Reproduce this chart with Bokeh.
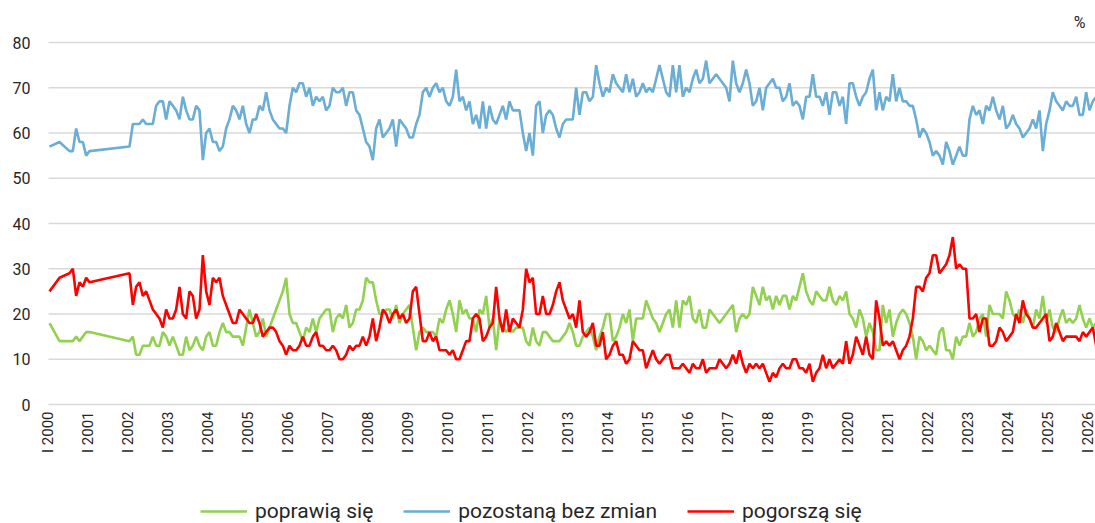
import math
from bokeh.plotting import figure
from bokeh.models import Range1d, Legend, LegendItem, ColumnDataSource
from bokeh.core.properties import value
from bokeh.embed import file_html
from bokeh.resources import INLINE

# ---- survey dates (irregular in 2000-2001, monthly from I 2002 to III 2026)
early_dates = [(2000, 1), (2000, 4), (2000, 7), (2000, 8), (2000, 9), (2000, 10),
               (2000, 11), (2000, 12), (2001, 1)]
monthly_from = (2002, 1)
monthly_to = (2026, 3)

tick_years = list(range(2000, 2027))
tick_labels = ["I %d" % y for y in tick_years]
y_ticks = list(range(0, 81, 10))
y_tick_labels = [str(v) for v in y_ticks]

# ---- series values (%)
poprawia = [18, 14, 14, 14, 15, 14, 15, 16, 16,
    14, 15, 11, 11, 13, 13, 13, 15, 13, 13, 16, 15, 13, 15, 13, 11, 11, 15, 12, 13, 15, 13, 12, 15, 16, 13, 13, 16,
    18, 16, 16, 15, 15, 15, 13, 17, 21, 18, 15, 16, 19, 15, 17, 19, 21, 23, 25, 28, 20, 18, 18, 16, 14, 17, 16, 19, 16, 19,
    20, 21, 21, 16, 19, 20, 19, 22, 17, 18, 21, 21, 23, 28, 27, 27, 23, 20, 20, 21, 21,
    19, 22, 18, 20, 21, 22, 17, 12, 16, 17, 16, 16, 16, 15, 19, 18, 21, 23, 20, 16, 23, 20, 21, 19, 19, 16, 21, 20, 24, 17,
    19, 12, 19, 17, 16, 17, 16, 17, 17, 17, 14, 13, 17, 14, 13, 16, 16, 15, 14, 14, 14, 15, 16, 18,
    16, 13, 13, 15, 16, 17, 15, 12, 15, 17, 20, 20, 14, 15, 17, 20, 18, 21, 14, 19, 19, 19, 23, 21, 19, 18, 16, 18, 20, 21,
    17, 23, 17, 23, 22, 24, 19, 18, 21, 17, 17, 21, 20, 19, 18, 19, 20, 21, 22, 16,
    19, 20, 19, 20, 26, 24, 22, 26, 23, 24, 21, 24, 22, 24, 24, 21, 24, 23, 26, 29, 25, 23, 22, 25, 24, 23, 23, 26, 23, 22,
    24, 23, 25, 20, 19, 17, 21, 19, 15, 18, 16, 12, 12, 22, 18, 21, 15, 18, 20, 21, 20, 18, 15,
    10, 15, 14, 12, 13, 12, 11, 16, 17, 12, 12, 10, 15, 13, 15, 15, 18, 15, 16, 19, 20, 15, 22, 20, 20, 20, 19, 25, 23, 20,
    19, 21, 18, 21, 19, 17, 21, 19, 24, 18, 21, 17, 16, 19, 21, 18, 19, 18, 19, 22, 19, 17, 19, 17, 18]

bez_zmian = [57, 58, 56, 56, 61, 58, 58, 55, 56,
    57, 62, 62, 62, 63, 62, 62, 62, 66, 67, 67, 63, 67, 66, 65, 63, 68, 65, 63, 63, 66, 65, 54, 60, 61, 58, 58, 56,
    57, 61, 63, 66, 65, 63, 66, 62, 60, 63, 63, 66, 65, 69, 65, 63, 62, 61, 61, 60, 66, 70, 69, 71, 71, 68, 70, 66, 68, 67,
    68, 65, 66, 70, 69, 69, 70, 66, 69, 69, 65, 64, 61, 58, 57, 54, 61, 63, 59, 60, 61,
    63, 57, 63, 62, 61, 59, 59, 62, 64, 69, 70, 68, 70, 71, 69, 70, 67, 66, 68, 74, 67, 68, 65, 67, 62, 64, 61, 67, 61, 66,
    63, 62, 64, 66, 63, 67, 65, 65, 65, 60, 56, 60, 55, 66, 67, 60, 64, 65, 64, 61, 59, 62, 63, 63,
    63, 70, 64, 69, 69, 67, 68, 75, 71, 68, 70, 69, 73, 71, 70, 69, 73, 69, 72, 68, 69, 71, 69, 70, 69, 72, 75, 72, 69, 68,
    75, 69, 75, 68, 70, 69, 72, 74, 71, 72, 76, 71, 72, 73, 72, 71, 70, 67, 76, 71,
    69, 71, 74, 71, 66, 67, 70, 65, 70, 71, 72, 70, 70, 67, 68, 71, 66, 67, 66, 63, 68, 68, 73, 68, 68, 66, 69, 64, 69, 69,
    66, 68, 62, 71, 71, 68, 66, 68, 69, 72, 74, 65, 69, 65, 68, 67, 73, 67, 70, 67, 67, 66, 66,
    63, 59, 61, 60, 58, 55, 56, 55, 53, 58, 56, 53, 55, 57, 55, 55, 63, 66, 64, 65, 62, 66, 65, 68, 65, 63, 66, 61, 62, 64,
    62, 61, 59, 60, 61, 63, 61, 65, 56, 62, 65, 69, 67, 66, 65, 67, 66, 66, 68, 64, 64, 69, 65, 67, 68]

pogorsza = [25, 28, 29, 30, 24, 27, 26, 28, 27,
    29, 22, 26, 27, 24, 25, 23, 21, 20, 19, 17, 21, 19, 19, 21, 26, 20, 19, 25, 24, 19, 21, 33, 25, 22, 28, 27, 28,
    24, 22, 20, 18, 18, 21, 20, 19, 18, 18, 20, 18, 15, 16, 17, 17, 16, 14, 13, 11, 13, 12, 12, 13, 15, 13, 13, 15, 16, 13,
    13, 12, 12, 13, 12, 10, 10, 11, 13, 12, 13, 13, 15, 13, 15, 19, 14, 17, 21, 20, 18,
    20, 21, 19, 20, 18, 19, 25, 26, 20, 14, 14, 16, 14, 15, 12, 12, 12, 11, 12, 10, 10, 12, 14, 14, 19, 20, 19, 14, 15, 17,
    18, 26, 19, 16, 21, 16, 19, 18, 17, 21, 30, 27, 28, 20, 20, 24, 20, 20, 22, 25, 27, 23, 21, 19,
    20, 17, 23, 16, 15, 16, 18, 13, 13, 16, 10, 11, 13, 14, 11, 11, 9, 10, 14, 13, 12, 12, 8, 10, 12, 10, 9, 10, 11, 11,
    8, 8, 8, 9, 8, 7, 9, 8, 8, 10, 7, 8, 8, 8, 10, 9, 8, 9, 11, 9,
    12, 9, 7, 9, 8, 9, 8, 9, 7, 5, 7, 6, 8, 9, 8, 8, 10, 10, 8, 8, 7, 9, 5, 7, 8, 11, 8, 10, 8, 9,
    10, 9, 14, 9, 11, 15, 13, 11, 15, 11, 10, 23, 19, 13, 14, 13, 14, 12, 10, 12, 13, 15, 19,
    26, 26, 25, 28, 29, 33, 33, 29, 30, 31, 33, 37, 30, 31, 30, 30, 19, 19, 20, 16, 19, 19, 13, 13, 14, 17, 16, 14, 15, 16,
    20, 18, 23, 20, 19, 17, 17, 18, 19, 20, 14, 15, 18, 16, 14, 15, 15, 15, 15, 14, 16, 15, 16, 17, 13]

labels = ["poprawią się", "pozostaną bez zmian", "pogorszą się"]
colors = ["#92D050", "#6AADD5", "#FF0000"]

# ---- build date axis values
dates = list(early_dates)
yy, mm = monthly_from
while (yy, mm) <= monthly_to:
    dates.append((yy, mm))
    mm += 1
    if mm > 12:
        mm = 1
        yy += 1
xs = [a + (b - 1) / 12.0 for a, b in dates]
n = min(len(xs), len(poprawia), len(bez_zmian), len(pogorsza))
src = ColumnDataSource(dict(x=xs[:n], g=poprawia[:n], b=bez_zmian[:n], r=pogorsza[:n]))

FONT = "Roboto"
TXT = "#262626"
PX_PER_UNIT = 4.525          # vertical scale (px per percentage point)
PX_PER_YEAR = 40.0           # horizontal scale
PLOT_LEFT_PX = 48            # where the gridded plot area starts
W, H = 1095, 523
plot_left = 2000 - 1 / PX_PER_YEAR
x_start = plot_left - PLOT_LEFT_PX / PX_PER_YEAR
x_end = x_start + W / PX_PER_YEAR
y_top = (404 - 10) / PX_PER_UNIT
y_bottom = -(H - 404) / PX_PER_UNIT

p = figure(frame_width=W, frame_height=H - 10,
           x_range=Range1d(x_start, x_end), y_range=Range1d(y_bottom, y_top),
           output_backend="svg", toolbar_location=None,
           min_border_left=0, min_border_right=0, min_border_top=10, min_border_bottom=0)
p.outline_line_color = None
p.background_fill_color = "white"
p.xaxis.visible = False
p.yaxis.visible = False
p.xgrid.visible = False
p.ygrid.visible = False

# horizontal gridlines at the value ticks
p.segment(x0=[plot_left] * len(y_ticks), x1=[x_end] * len(y_ticks), y0=y_ticks, y1=y_ticks,
          line_color="#D9D9D9", line_width=1.5)

# value labels
p.text(x=[plot_left] * len(y_ticks), y=y_ticks, text=y_tick_labels, text_align="right",
       text_baseline="middle", x_offset=-18, text_font=value(FONT), text_font_size="16px",
       text_color=TXT)

rg = p.line("x", "g", source=src, line_color=colors[0], line_width=2.6)
rb = p.line("x", "b", source=src, line_color=colors[1], line_width=2.6)
rr = p.line("x", "r", source=src, line_color=colors[2], line_width=2.6)

# year labels under the zero line (rotated, reading upwards)
p.text(x=tick_years, y=[0] * len(tick_years), text=tick_labels, angle=math.pi / 2,
       text_align="right", text_baseline="middle", y_offset=7, x_offset=-2,
       text_font=value(FONT), text_font_size="15px", text_color=TXT)

# unit label
p.text(x=[x_end], y=[84.4], text=["%"], text_align="right", text_baseline="middle",
       text_font=value(FONT), text_font_size="16px", text_color=TXT, x_offset=-10)

legend = Legend(items=[LegendItem(label=labels[0], renderers=[rg]),
                       LegendItem(label=labels[1], renderers=[rb]),
                       LegendItem(label=labels[2], renderers=[rr])],
                location=(200, 0), orientation="horizontal",
                glyph_width=47, glyph_height=20, label_standoff=8, spacing=30,
                padding=3, margin=0, border_line_color=None, background_fill_alpha=0,
                label_text_font=FONT, label_text_font_size="21px", label_text_color=TXT)
p.add_layout(legend, "center")

open("out.html", "w").write(file_html(p, INLINE))
